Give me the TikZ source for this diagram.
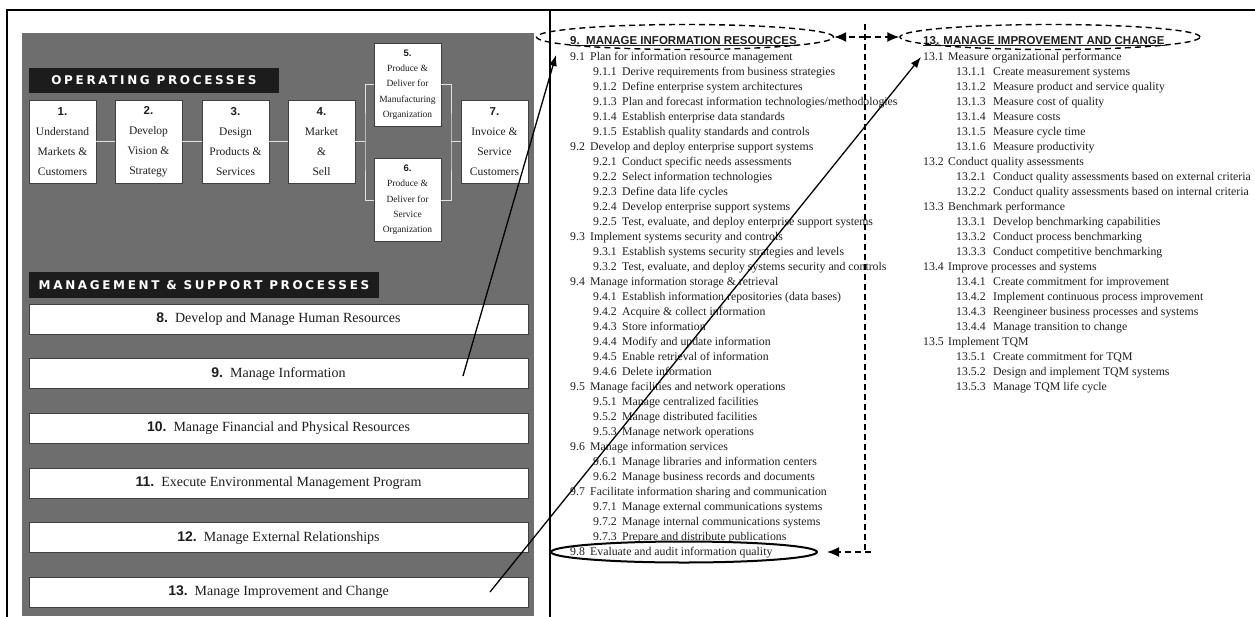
\documentclass[tikz,border=0pt]{standalone}
\usepackage{fontspec}
\setmainfont{Liberation Serif}
\newfontfamily\numfont{Liberation Sans}
\newfontfamily\capfont[LetterSpace=22]{DejaVu Sans}
\usetikzlibrary{arrows.meta,shapes.geometric}
\definecolor{panel}{RGB}{110,110,110}
\definecolor{hdrblack}{RGB}{28,28,28}
\definecolor{linkgray}{RGB}{225,225,225}
\definecolor{ink}{RGB}{30,30,30}
\newcommand\procnum[1]{{\numfont\bfseries #1}}
\begin{document}
\begin{tikzpicture}[x=1pt,y=-1pt,
  opbox/.style={draw=black!75, line width=0.8pt, fill=white, text=ink,
    minimum width=67pt, minimum height=83pt, inner sep=0pt, align=center,
    font=\fontsize{11.5}{20}\selectfont},
  smallbox/.style={opbox, font=\fontsize{9.5}{15.3}\selectfont},
  procbar/.style={draw=black!75, line width=0.8pt, fill=white, text=ink,
    minimum width=499pt, minimum height=30pt, inner sep=0pt,
    font=\fontsize{14}{16}\selectfont},
  header/.style={fill=hdrblack, text=white, inner sep=0pt,
    font=\capfont\bfseries\fontsize{12}{14}\selectfont},
  link/.style={draw=linkgray, line width=1pt},
  frame/.style={line width=2.5pt, line cap=rect},
  item/.style={anchor=base west, inner sep=0pt, text=ink,
    font=\fontsize{11.8}{13}\selectfont},
  listtitle/.style={anchor=base west, inner sep=0pt, text=ink,
    font=\numfont\bfseries\fontsize{11.5}{13}\selectfont},
  dashring/.style={draw, ellipse, dashed, line width=1.4pt,
    dash pattern=on 6pt off 4pt, inner sep=0pt},
  dasharrow/.style={line width=1.4pt, dash pattern=on 6pt off 4pt,
    -{Latex[length=12pt,width=10pt]}},
  dashline/.style={line width=1.4pt, dash pattern=on 6pt off 4pt},
  pointer/.style={line width=1.3pt, -{Latex[length=11pt,width=8pt]}}
]
\useasboundingbox (0,0) rectangle (1255,616);

% outer frame and the divider between the two halves
\draw[frame] (7,616) -- (7,10) -- (1255,10);
\draw[frame] (550,10) -- (550,616);

% grey process panel
\fill[panel] (22,33) rectangle (534,616);

% ---------- operating processes ----------
\node[header, minimum width=250pt, minimum height=25pt] (oph) at (154,80.5) {OPERATING PROCESSES};

\node[opbox] (b1) at (62.5,141.5) {\procnum{1.}\\Understand\\Markets \&\\Customers};
\node[opbox] (b2) at (148.5,141.5) {\procnum{2.}\\Develop\\Vision \&\\Strategy};
\node[opbox] (b3) at (235.5,141.5) {\procnum{3.}\\Design\\Products \&\\Services};
\node[opbox] (b4) at (321.5,141.5) {\procnum{4.}\\Market\\\&\\Sell};
\node[smallbox] (b5) at (407.5,84.5) {\procnum{5.}\\Produce \&\\Deliver for\\Manufacturing\\Organization};
\node[smallbox] (b6) at (407.5,200) {\procnum{6.}\\Produce \&\\Deliver for\\Service\\Organization};
\node[opbox] (b7) at (494.5,141.5) {\procnum{7.}\\Invoice \&\\Service\\Customers};

\coordinate (splitL) at (365,141.5);
\coordinate (splitR) at (451,141.5);
\draw[link] (b1) -- (b2);
\draw[link] (b2) -- (b3);
\draw[link] (b3) -- (b4);
\draw[link] (b4) -- (splitL);
\draw[link] (b5.west) -| (splitL) |- (b6.west);
\draw[link] (b5.east) -| (splitR) |- (b6.east);
\draw[link] (splitR) -- (b7);

% ---------- management & support processes ----------
\node[header, minimum width=350pt, minimum height=26pt] (mgh) at (204,285) {MANAGEMENT \& SUPPORT PROCESSES};

\node[procbar] (p8)  at (278.5,319)   {\procnum{8.}\ \ Develop and Manage Human Resources};
\node[procbar] (p9)  at (278.5,373.7) {\procnum{9.}\ \ Manage Information};
\node[procbar] (p10) at (278.5,428.4) {\procnum{10.}\ \ Manage Financial and Physical Resources};
\node[procbar] (p11) at (278.5,483)   {\procnum{11.}\ \ Execute Environmental Management Program};
\node[procbar] (p12) at (278.5,537.8) {\procnum{12.}\ \ Manage External Relationships};
\node[procbar] (p13) at (278.5,592.5) {\procnum{13.}\ \ Manage Improvement and Change};

% ---------- process 9 breakdown ----------
\node[listtitle] (t9) at (570,44) {\underline{9.\ \ MANAGE INFORMATION RESOURCES}};
\foreach \l/\n/\t [count=\i from 0] in {
  1/9.1/Plan for information resource management,
  2/9.1.1/Derive requirements from business strategies,
  2/9.1.2/Define enterprise system architectures,
  2/9.1.3/{Plan and forecast information technologies/methodologies},
  2/9.1.4/Establish enterprise data standards,
  2/9.1.5/Establish quality standards and controls,
  1/9.2/Develop and deploy enterprise support systems,
  2/9.2.1/Conduct specific needs assessments,
  2/9.2.2/Select information technologies,
  2/9.2.3/Define data life cycles,
  2/9.2.4/Develop enterprise support systems,
  2/9.2.5/{Test, evaluate, and deploy enterprise support systems},
  1/9.3/Implement systems security and controls,
  2/9.3.1/Establish systems security strategies and levels,
  2/9.3.2/{Test, evaluate, and deploy systems security and controls},
  1/9.4/Manage information storage \& retrieval,
  2/9.4.1/Establish information repositories (data bases),
  2/9.4.2/Acquire \& collect information,
  2/9.4.3/Store information,
  2/9.4.4/Modify and update information,
  2/9.4.5/Enable retrieval of information,
  2/9.4.6/Delete information,
  1/9.5/Manage facilities and network operations,
  2/9.5.1/Manage centralized facilities,
  2/9.5.2/Manage distributed facilities,
  2/9.5.3/Manage network operations,
  1/9.6/Manage information services,
  2/9.6.1/Manage libraries and information centers,
  2/9.6.2/Manage business records and documents,
  1/9.7/Facilitate information sharing and communication,
  2/9.7.1/Manage external communications systems,
  2/9.7.2/Manage internal communications systems,
  2/9.7.3/Prepare and distribute publications,
  1/9.8/Evaluate and audit information quality}{
  \ifnum\l=1 \def\xn{570}\def\xt{590}\else\def\xn{593}\def\xt{622}\fi
  \node[item] (n9-\i) at (\xn,60.5+15*\i) {\n};
  \node[item] (x9-\i) at (\xt,60.5+15*\i) {\t};
}

% ---------- process 13 breakdown ----------
\node[listtitle] (t13) at (923,44) {\underline{13. MANAGE IMPROVEMENT AND CHANGE}};
\foreach \l/\n/\t [count=\i from 0] in {
  1/13.1/Measure organizational performance,
  2/13.1.1/Create measurement systems,
  2/13.1.2/Measure product and service quality,
  2/13.1.3/Measure cost of quality,
  2/13.1.4/Measure costs,
  2/13.1.5/Measure cycle time,
  2/13.1.6/Measure productivity,
  1/13.2/Conduct quality assessments,
  2/13.2.1/Conduct quality assessments based on external criteria,
  2/13.2.2/Conduct quality assessments based on internal criteria,
  1/13.3/Benchmark performance,
  2/13.3.1/Develop benchmarking capabilities,
  2/13.3.2/Conduct process benchmarking,
  2/13.3.3/Conduct competitive benchmarking,
  1/13.4/Improve processes and systems,
  2/13.4.1/Create commitment for improvement,
  2/13.4.2/Implement continuous process improvement,
  2/13.4.3/Reengineer business processes and systems,
  2/13.4.4/Manage transition to change,
  1/13.5/Implement TQM,
  2/13.5.1/Create commitment for TQM,
  2/13.5.2/Design and implement TQM systems,
  2/13.5.3/Manage TQM life cycle}{
  \ifnum\l=1 \def\xn{923}\def\xt{948}\else\def\xn{956}\def\xt{993}\fi
  \node[item] (n13-\i) at (\xn,60.5+15*\i) {\n};
  \node[item] (x13-\i) at (\xt,60.5+15*\i) {\t};
}

% ---------- highlight rings ----------
\node[dashring, minimum width=297pt, minimum height=25pt] (e9) at (685,37) {};
\node[dashring, minimum width=300pt, minimum height=25pt] (e13) at (1050,37) {};
\node[draw, ellipse, line width=2pt, inner sep=0pt, minimum width=266pt, minimum height=21pt] (e98) at (684,552) {};

% dashed cross-reference connectors
\coordinate (vtop) at (865,24);
\coordinate (vmid) at (865,37);
\coordinate (vbot) at (865,552);
\coordinate (vfoot) at (871,552);
\draw[dashline] (vtop) -- (vbot);
\draw[dasharrow] (vmid) -- (e9.east);
\draw[dasharrow] (vmid) -- (e13.west);
\draw[dasharrow, shorten >=9pt] (vfoot) -- (e98.east);

% pointers from the process bars to their breakdowns
\coordinate (s9) at (463,376);
\coordinate (s13) at (490,592);
\coordinate (h9) at (556,55);
\coordinate (h13) at (921,57);
\draw[pointer] (s9) -- (h9);
\draw[pointer] (s13) -- (h13);
\end{tikzpicture}
\end{document}
